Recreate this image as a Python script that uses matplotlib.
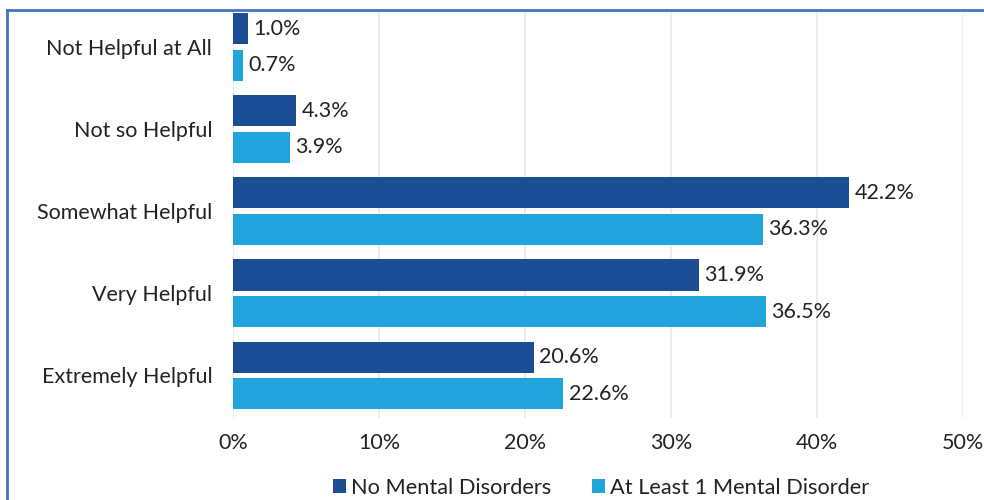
import matplotlib
matplotlib.use('Agg')
import matplotlib.pyplot as plt
from matplotlib.lines import Line2D
from matplotlib.patches import Patch
import numpy as np

plt.rcParams['font.family'] = ['Lato', 'DejaVu Sans']

categories = ['Not Helpful at All', 'Not so Helpful', 'Somewhat Helpful',
              'Very Helpful', 'Extremely Helpful']
no_disorder = [1.0, 4.3, 42.2, 31.9, 20.6]
one_disorder = [0.7, 3.9, 36.3, 36.5, 22.6]
series_names = ['No Mental Disorders', 'At Least 1 Mental Disorder']
xticks = [0, 10, 20, 30, 40, 50]

DARK = '#1b4d95'
LIGHT = '#21a3db'
TEXT = '#222222'

W, H = 984, 500
fig = plt.figure(figsize=(W / 100, H / 100), dpi=100)
ax = fig.add_axes([233 / W, 1 - 418 / H, 730 / W, 407 / H])

y = np.arange(len(categories))
off = 0.2226
h = 0.378
b1 = ax.barh(y - off, no_disorder, height=h, color=DARK, zorder=3)
b2 = ax.barh(y + off, one_disorder, height=h, color=LIGHT, zorder=3)

for bars, vals in ((b1, no_disorder), (b2, one_disorder)):
    ax.bar_label(bars, labels=[f'{v:.1f}%' for v in vals], padding=4,
                 fontsize=15.5, color=TEXT)

ax.set_xlim(0, 50)
ax.set_ylim(4.52, -0.44)
ax.set_yticks(y)
ax.set_yticklabels(categories, fontsize=15.5, color=TEXT)
ax.set_xticks(xticks)
ax.set_xticklabels([f'{t}%' for t in xticks], fontsize=15.5, color=TEXT)
ax.tick_params(axis='y', length=0, pad=15)
ax.tick_params(axis='x', length=0, pad=11)
for s in ax.spines.values():
    s.set_visible(False)
ax.grid(axis='x', color='#ebebeb', linewidth=1.3, zorder=0)
ax.set_axisbelow(True)

handles = [Patch(facecolor=DARK, label=series_names[0]),
           Patch(facecolor=LIGHT, label=series_names[1])]
fig.legend(handles=handles, loc='center', bbox_to_anchor=(601 / W, 1 - 488 / H),
           ncol=2, frameon=False, fontsize=15.7, handlelength=0.6,
           handleheight=0.6, handletextpad=0.2, columnspacing=1.9,
           labelcolor=TEXT)

# blue frame (only top and left edges are visible in the crop)
border = '#4472c4'
fig.add_artist(Line2D([7 / W, 1.0], [1 - 10 / H, 1 - 10 / H],
                      color=border, linewidth=2, transform=fig.transFigure))
fig.add_artist(Line2D([7 / W, 7 / W], [0.0, 1 - 10 / H],
                      color=border, linewidth=2, transform=fig.transFigure))

fig.savefig('out.png', dpi=100)
